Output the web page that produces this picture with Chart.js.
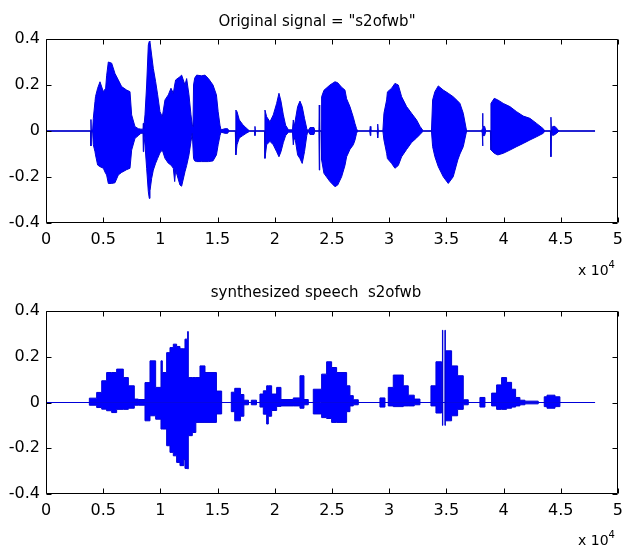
<!DOCTYPE html>
<html>
<head>
<meta charset="utf-8">
<script src="https://cdn.jsdelivr.net/npm/chart.js"></script>
<style>
  body { margin: 0; width: 630px; height: 549px; background: #fff; position: relative; overflow: hidden; }
  canvas { position: absolute; left: 0; }
  .ttl { position: absolute; width: 630px; text-align: center; font: 15px "DejaVu Sans"; line-height: 18px; color: #000; white-space: pre; }
  .exp { position: absolute; left: 578px; font: 14px "DejaVu Sans"; line-height: 16px; color: #000; }
  .exp span { position: relative; top: -7px; font-size: 10px; }
</style>
</head>
<body>
<canvas id="top" width="630" height="270" style="top:0"></canvas>
<canvas id="bot" width="630" height="279" style="top:270px"></canvas>
<div class="ttl" style="top:12px;left:2px">Original signal = "s2ofwb"</div>
<div class="ttl" style="top:283px;left:1px">synthesized speech  s2ofwb</div>
<div class="exp" style="top:262px">x 10<span>4</span></div>
<div class="exp" style="top:532px">x 10<span>4</span></div>
<script>
// tick labels (x axis in units of 10^4 samples)
const xTickLabels = ['0', '0.5', '1', '1.5', '2', '2.5', '3', '3.5', '4', '4.5', '5'];
const yTickLabels = ['-0.4', '-0.2', '0', '0.2', '0.4'];

// original signal: sample index, upper and lower envelope
const origX = [
  0, 3900, 3930, 3960, 4080,
  4137, 4283, 4330, 4516, 4720, 5012, 5216, 5300, 5449, 5741, 6031, 6322, 6614, 7051, 7343, 7488, 7780, 8071,
  8300, 8480, 8508, 8540,
  8654, 8800, 8945, 9030, 9091, 9236, 9382, 9586, 9761, 9965, 10169, 10402, 10693, 10926, 11130, 11250, 11334, 11713, 11858, 12150, 12296, 12500, 12675, 12791,
  12850, 12900, 13000, 13170, 13600, 13900, 14200, 14600, 14900, 15050, 15210, 15300, 15650, 15880, 16000,
  16550, 16600, 16700, 16900, 17200, 17500, 17686, 17800, 18240, 18270, 18300,
  19100, 19143, 19290, 19580, 19870, 20163, 20367, 20542, 20750, 20950, 21200,
  21550, 21620, 21700, 21800, 22000, 22203, 22400, 22600, 22800, 22900, 23080, 23430, 23500, 23860, 23893, 23930,
  24050, 24097, 24300, 24825, 25262, 25500, 25845, 26136, 26282, 26573, 26865, 27010, 27150, 27250, 28300, 28350, 28400, 28950, 29000, 29050,
  29450, 29545, 29780, 29850, 30216, 30507, 30800, 31090, 31527, 31960, 32400, 32700, 32983,
  33700, 33800, 34000, 34295, 34732, 35169, 35600, 36000, 36189, 36480, 36772,
  38100, 38140, 38170, 38200, 38350, 38450,
  38850, 38900, 39190, 39500, 39976, 40559, 41142, 41725, 42307, 42890, 43473, 43600,
  44100, 44144, 44190, 44300, 44500, 44760, 44850, 48000
];
const origHi = [
  0, 0, 0.05, 0.005, 0.005,
  0.055, 0.128, 0.15, 0.186, 0.214, 0.171, 0.186, 0.24, 0.3, 0.295, 0.25, 0.222, 0.193, 0.178, 0.171, 0.07, 0.019, 0.01,
  0.008, 0.008, 0.033, 0.01,
  0.07, 0.2, 0.374, 0.39, 0.387, 0.33, 0.272, 0.214, 0.157, 0.084, 0.062, 0.135, 0.157, 0.186, 0.164, 0.2, 0.222, 0.236, 0.243, 0.2, 0.228, 0.157, 0.07, 0.025,
  0.02, 0.2, 0.23, 0.243, 0.24, 0.243, 0.228, 0.2, 0.157, 0.084, 0.025, 0.005, 0.01, 0.01, 0,
  0, 0.091, 0.084, 0.048, 0.028, 0.013, 0.005, 0, 0, 0.02, 0,
  0, 0.091, 0.062, 0.04, 0.07, 0.12, 0.164, 0.13, 0.07, 0.025, 0.005,
  0.005, 0.048, 0.02, 0.048, 0.106, 0.13, 0.106, 0.055, 0.01, 0, 0.015, 0.015, 0, 0, 0.113, 0,
  0, 0.149, 0.177, 0.2, 0.214, 0.21, 0.19, 0.178, 0.14, 0.106, 0.06, 0.033, 0.01, 0, 0, 0.02, 0, 0, 0.03, 0,
  0, 0.077, 0.135, 0.17, 0.186, 0.207, 0.2, 0.149, 0.106, 0.077, 0.048, 0.02, 0,
  0, 0.135, 0.171, 0.196, 0.178, 0.164, 0.149, 0.13, 0.12, 0.077, 0,
  0, 0.01, 0.077, 0.02, 0.02, 0,
  0, 0.12, 0.142, 0.135, 0.12, 0.106, 0.084, 0.065, 0.055, 0.033, 0.01, 0,
  0, 0.06, 0, 0.02, 0.02, 0.005, 0, 0
];
const origLo = [
  0, 0, -0.065, -0.005, -0.005,
  -0.06, -0.09, -0.104, -0.148, -0.155, -0.162, -0.185, -0.191, -0.228, -0.228, -0.225, -0.191, -0.18, -0.168, -0.162, -0.083, -0.032, -0.02,
  -0.01, -0.01, -0.09, -0.01,
  -0.061, -0.162, -0.264, -0.293, -0.26, -0.206, -0.17, -0.14, -0.119, -0.095, -0.083, -0.119, -0.14, -0.148, -0.162, -0.22, -0.17, -0.235, -0.24, -0.177, -0.15, -0.104, -0.046, -0.01,
  -0.01, -0.12, -0.13, -0.133, -0.133, -0.133, -0.133, -0.13, -0.104, -0.06, -0.02, -0.005, -0.01, -0.01, 0,
  0, -0.104, -0.06, -0.03, -0.02, -0.01, -0.005, 0, 0, -0.02, 0,
  0, -0.119, -0.06, -0.045, -0.06, -0.09, -0.112, -0.09, -0.05, -0.02, -0.005,
  -0.005, -0.06, -0.03, -0.04, -0.104, -0.12, -0.141, -0.09, -0.02, 0, -0.015, -0.015, 0, 0, -0.17, 0,
  0, -0.126, -0.184, -0.22, -0.242, -0.235, -0.199, -0.15, -0.112, -0.08, -0.06, -0.04, -0.01, 0, 0, -0.02, 0, 0, -0.03, 0,
  0, -0.039, -0.097, -0.12, -0.141, -0.162, -0.15, -0.112, -0.08, -0.05, -0.03, -0.015, 0,
  0, -0.068, -0.112, -0.155, -0.199, -0.228, -0.199, -0.126, -0.1, -0.068, 0,
  0, -0.01, -0.065, -0.02, -0.02, 0,
  0, -0.082, -0.097, -0.104, -0.097, -0.083, -0.068, -0.054, -0.039, -0.025, -0.01, 0,
  0, -0.112, 0, -0.02, -0.015, -0.005, 0, 0
];

// synthesized speech: frame start sample, upper and lower level (held until next frame)
const synthX = [
  0, 3790, 4430, 4870, 5300, 5740, 6177, 6760, 7200, 7720, 8071,
  8654, 9091, 9586, 10052, 10169, 10548, 10839, 11130, 11421, 11713, 12050, 12150, 12383, 12441, 12791, 13100, 13462, 13900, 14900, 15356,
  16200, 16500, 17000, 17300, 17700, 17950, 18400,
  18706, 19000, 19290, 19435, 19726, 20163, 20542, 21620, 22203, 22552, 22930,
  23368, 24097, 24534, 24970, 25408, 26282, 26573, 26865, 27302,
  29196, 29633, 29924, 30361, 31235, 31672, 32197, 32692,
  33654, 34091, 34586, 34660, 34690, 34880, 34910, 34936, 35460, 35985, 36480, 36917,
  37937, 38374, 38957, 39395, 39831, 40268, 40705, 41056, 41433, 41870, 43033,
  43560, 43800, 44500, 44930, 48000
];
const synthHi = [
  0, 0.019, 0.044, 0.095, 0.131, 0.131, 0.146, 0.109, 0.073, 0.015, 0.013,
  0.087, 0.182, 0.066, 0.182, 0.131, 0.218, 0.24, 0.255, 0.245, 0.235, 0.235, 0.277, 0.31, 0.109, 0.109, 0.109, 0.16, 0.131, 0.05, 0,
  0.045, 0.062, 0.035, 0.01, 0, 0.01, 0,
  0.037, 0.051, 0.073, 0.073, 0.037, 0.066, 0.013, 0.02, 0.117, 0.013, 0,
  0.058, 0.124, 0.178, 0.153, 0.131, 0.073, 0.03, 0.012, 0,
  0.02, 0, 0.066, 0.12, 0.073, 0.032, 0.015, 0,
  0.073, 0.178, 0, 0.316, 0, 0.316, 0, 0.226, 0.16, 0.117, 0.012, 0,
  0.022, 0, 0.041, 0.077, 0.109, 0.088, 0.058, 0.022, 0.01, 0.006, 0,
  0.025, 0.032, 0.025, 0, 0
];
const synthLo = [
  0, -0.012, -0.022, -0.029, -0.036, -0.044, -0.03, -0.03, -0.025, -0.012, -0.012,
  -0.08, -0.058, -0.073, -0.116, -0.116, -0.189, -0.218, -0.233, -0.262, -0.276, -0.25, -0.288, -0.29, -0.145, -0.131, -0.087, -0.087, -0.087, -0.05, 0,
  -0.04, -0.08, -0.06, -0.01, 0, -0.01, 0,
  -0.02, -0.051, -0.094, -0.06, -0.035, -0.017, -0.015, -0.015, -0.025, -0.01, 0,
  -0.05, -0.066, -0.07, -0.087, -0.087, -0.04, -0.015, -0.01, 0,
  -0.02, 0, -0.015, -0.018, -0.015, -0.015, -0.01, 0,
  -0.015, -0.046, 0, -0.1, 0, -0.1, 0, -0.08, -0.058, -0.03, -0.01, 0,
  -0.02, 0, -0.015, -0.03, -0.03, -0.025, -0.02, -0.015, -0.01, -0.006, 0,
  -0.018, -0.025, -0.018, 0, 0
];

const BLUE = '#0000ff';
const EDGE = '#0000d8';
const NAVY = '#1a1a80';
const tickFont = { family: 'DejaVu Sans', size: 16 };

function pts(xs, ys) {
  return xs.map((x, i) => ({ x: x, y: ys[i] }));
}

// each half of the envelope is filled to the zero line
function signalDatasets(xs, hi, lo, stepped) {
  return [
    { data: pts(xs, hi), fill: 'origin', backgroundColor: BLUE, borderColor: EDGE, borderWidth: 1, stepped: stepped, order: 0 },
    { data: pts(xs, lo), fill: 'origin', backgroundColor: BLUE, borderColor: EDGE, borderWidth: 1, stepped: stepped, order: 0 },
    // zero line over the whole recording, drawn underneath
    { data: pts([xs[0], xs[xs.length - 1]], [0, 0]), fill: false, borderColor: NAVY, borderWidth: 1, order: 5 }
  ];
}

// MATLAB style box with inward ticks on all four sides
const matlabBox = {
  id: 'matlabBox',
  afterDraw(chart) {
    const { ctx, chartArea: a, scales: { x, y } } = chart;
    const L = Math.round(a.left) + 0.5, R = Math.round(a.right) - 0.5;
    const T = Math.round(a.top) + 0.5, B = Math.round(a.bottom) - 0.5;
    ctx.save();
    ctx.strokeStyle = '#000';
    ctx.lineWidth = 1;
    ctx.beginPath();
    ctx.rect(L, T, R - L, B - T);
    x.ticks.forEach(t => {
      const p = Math.round(x.getPixelForValue(t.value)) + 0.5;
      ctx.moveTo(p, B); ctx.lineTo(p, B - 5);
      ctx.moveTo(p, T); ctx.lineTo(p, T + 5);
    });
    y.ticks.forEach(t => {
      const p = Math.round(y.getPixelForValue(t.value)) + 0.5;
      ctx.moveTo(L, p); ctx.lineTo(L + 5, p);
      ctx.moveTo(R, p); ctx.lineTo(R - 5, p);
    });
    ctx.stroke();
    ctx.restore();
  }
};

function options(padTop, axisHeight) {
  return {
    responsive: false,
    animation: false,
    devicePixelRatio: 1,
    layout: { padding: { top: padTop, right: 12, left: 0, bottom: 0 } },
    plugins: { legend: { display: false }, tooltip: { enabled: false } },
    elements: { point: { radius: 0 }, line: { tension: 0 } },
    scales: {
      x: {
        type: 'linear', min: 0, max: 50000,
        grid: { display: false, drawTicks: false },
        border: { display: false },
        ticks: { stepSize: 5000, autoSkip: false, maxRotation: 0, padding: 7, color: '#000', font: tickFont,
                 callback: (v, i) => xTickLabels[i] },
        afterFit: s => { s.height = axisHeight; }
      },
      y: {
        min: -0.4, max: 0.4,
        grid: { display: false, drawTicks: false },
        border: { display: false },
        ticks: { stepSize: 0.2, padding: 6, color: '#000', font: tickFont,
                 callback: (v, i) => yTickLabels[i] },
        afterFit: s => { s.width = 46; }
      }
    }
  };
}

new Chart(document.getElementById('top'), {
  type: 'line',
  data: { datasets: signalDatasets(origX, origHi, origLo, false) },
  options: options(39, 47),
  plugins: [matlabBox]
});

// 'before': each frame level is held until the next frame start
new Chart(document.getElementById('bot'), {
  type: 'line',
  data: { datasets: signalDatasets(synthX, synthHi, synthLo, 'before') },
  options: options(41, 55),
  plugins: [matlabBox]
});
</script>
</body>
</html>
